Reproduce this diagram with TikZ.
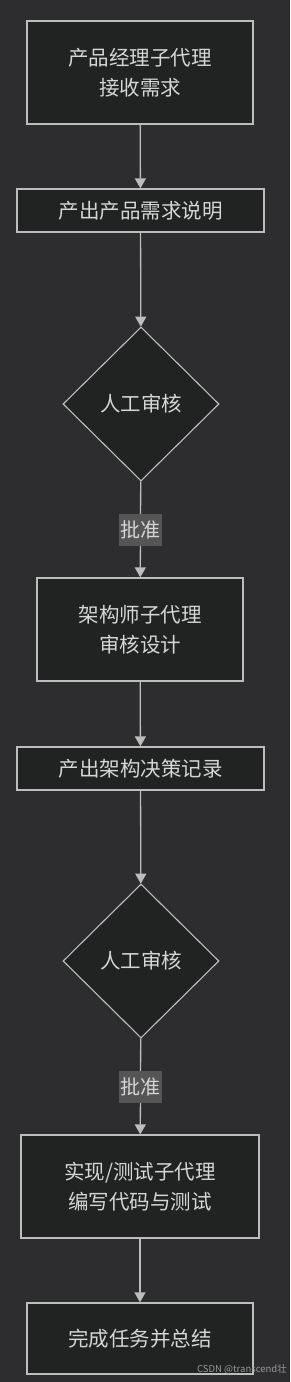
\documentclass[tikz,border=0pt]{standalone}
\usepackage{fontspec}
\setmainfont{Noto Sans CJK SC}
\usetikzlibrary{shapes.geometric, arrows.meta}

\definecolor{bgcol}{HTML}{2D2D30}
\definecolor{boxfill}{HTML}{212222}
\definecolor{boxline}{HTML}{BDBDBD}
\definecolor{txtcol}{HTML}{D6D6D6}
\definecolor{tagfill}{HTML}{555555}

\begin{document}
\begin{tikzpicture}[
			x=1pt, y=-1pt,
			box/.style={
				rectangle,
				draw=boxline,
				fill=boxfill,
				line width=1.3pt,
				inner sep=0pt,
				align=center,
				text=txtcol,
				font=\fontsize{20.5}{30}\selectfont
			},
			check/.style={
				diamond,
				draw=boxline,
				fill=boxfill,
				line width=1.1pt,
				inner sep=0pt,
				minimum width=156pt,
				minimum height=154pt,
				text=txtcol,
				font=\fontsize{20.5}{30}\selectfont
			},
			tag/.style={
				rectangle,
				fill=tagfill,
				inner sep=0pt,
				minimum width=43pt,
				minimum height=32pt,
				text=txtcol,
				font=\fontsize{20}{24}\selectfont
			},
			link/.style={draw=boxline, line width=1.3pt},
			arrow/.style={link, -{Triangle[width=11pt,length=10pt]}}
			]
			
			% background
			\fill[bgcol] (0,0) rectangle (290,1382);
			\fill[black!85] (288.6,0) rectangle (290,1382);
			
			\node (pm) [box, minimum width=226pt, minimum height=103pt] at (140,72.5) {产品经理子代理\\接收需求};
			\node (prd) [box, minimum width=247pt, minimum height=43pt] at (140.5,210.5) {产出产品需求说明};
			\node (rev1) [check] at (141,404) {人工审核};
			\node (ok1) [tag] at (140.5,530) {批准};
			
			\node (arch) [box, minimum width=206pt, minimum height=103pt] at (140,629.5) {架构师子代理\\审核设计};
			\node (adr) [box, minimum width=247pt, minimum height=43pt] at (140.5,768.5) {产出架构决策记录};
			\node (rev2) [check] at (141,961) {人工审核};
			\node (ok2) [tag] at (140.5,1087) {批准};
			
			\node (impl) [box, minimum width=238pt, minimum height=103pt] at (140,1186.5) {实现/测试子代理\\编写代码与测试};
			\node (done) [box, minimum width=226pt, minimum height=71pt] at (140,1338.5) {完成任务并总结};
			
			\node (mark) [text=white!60!black, font=\fontsize{9.5}{10}\selectfont, inner sep=0pt] at (242,1369) {CSDN @transcend壮};
			
			\draw [arrow] (pm) -- (prd);
			\draw [arrow] (prd) -- (rev1);
			\draw [link] (rev1) -- (ok1);
			\draw [arrow] (ok1) -- (arch);
			\draw [arrow] (arch) -- (adr);
			\draw [arrow] (adr) -- (rev2);
			\draw [link] (rev2) -- (ok2);
			\draw [arrow] (ok2) -- (impl);
			\draw [arrow] (impl) -- (done);
			
		\end{tikzpicture}
\end{document}
